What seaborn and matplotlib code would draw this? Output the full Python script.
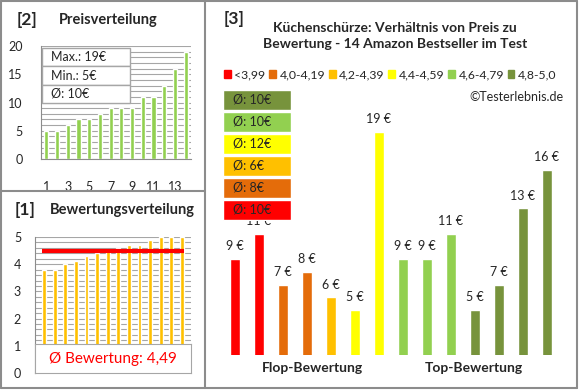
import matplotlib
matplotlib.use('Agg')
import matplotlib.pyplot as plt
from matplotlib.lines import Line2D
from matplotlib.patches import Patch
import seaborn as sns

# data
prices_sorted = [5, 5, 6, 7, 7, 8, 9, 9, 9, 11, 11, 13, 16, 19]
price_ticks = [1, 3, 5, 7, 9, 11, 13]
ratings_sorted = [3.8, 3.8, 4.0, 4.1, 4.3, 4.4, 4.5, 4.6, 4.7, 4.7, 4.9, 5.0, 5.0, 5.0]
avg_rating = 4.49
product_prices = [9, 11, 7, 8, 6, 5, 19, 9, 9, 11, 5, 7, 13, 16]
product_groups = [0, 0, 1, 1, 2, 3, 3, 4, 4, 4, 5, 5, 5, 5]
group_labels = ['<3,99', '4,0-4,19', '4,2-4,39', '4,4-4,59', '4,6-4,79', '4,8-5,0']
group_colors = ['#FF0000', '#E46C0A', '#FFC000', '#FFFF00', '#92D050', '#77933C']
group_avgs = [10, 8, 6, 12, 10, 10]

sns.set_style('white')
plt.rcParams['font.family'] = ['Lato', 'DejaVu Sans']

W, H = 580, 390
fig = plt.figure(figsize=(W / 100, H / 100), dpi=100)


def box(x0, y0, x1, y1):
    # pixel rectangle -> figure fraction
    return [x0 / W, 1 - y1 / H, (x1 - x0) / W, (y1 - y0) / H]


def ftext(x, y, s, **kw):
    fig.text(x / W, 1 - y / H, s, **kw)


grid_col = '#A6A6A6'
frame_col = '#8C8C8C'

# panel frames
for xs, ys in [((1, 577), (1, 1)), ((1, 577), (388, 388)), ((1, 1), (1, 388)),
               ((577, 577), (1, 388)), ((205, 205), (1, 388)), ((1, 205), (191, 191))]:
    fig.add_artist(Line2D([x / W for x in xs], [1 - y / H for y in ys], color=frame_col, lw=1.5))

# [2] Preisverteilung
ax2 = fig.add_axes(box(41, 46, 191, 159))
sns.barplot(x=list(range(len(prices_sorted))), y=prices_sorted, color='#92D050',
            saturation=1, width=0.38, ax=ax2)
ax2.set_axisbelow(True)
ax2.set_ylim(0, 20)
ax2.set_yticks(range(0, 21, 5))
ax2.set_yticks(range(0, 21), minor=True)
ax2.grid(axis='y', which='both', color=grid_col, lw=0.8)
ax2.set_xticks(range(0, 14, 2))
ax2.set_xticklabels(price_ticks)
ax2.tick_params(which='both', length=0, labelsize=9)
ax2.tick_params(axis='x', pad=16)
ax2.tick_params(axis='y', pad=13)
for s in ['top', 'right']:
    ax2.spines[s].set_visible(False)
for s in ['left', 'bottom']:
    ax2.spines[s].set_color(frame_col)
ax2.set_xlabel('')
ax2.set_ylabel('')

info = [f'Max.: {max(prices_sorted)}€', f'Min.: {min(prices_sorted)}€',
        f'Ø: {round(sum(prices_sorted) / len(prices_sorted))}€']
axi = fig.add_axes(box(42, 48, 130, 103))
axi.barh(range(3), [1] * 3, height=1, color='white', edgecolor=grid_col, lw=1, clip_on=False)
axi.set_xlim(0, 1)
axi.set_ylim(2.5, -0.5)
axi.axis('off')
for i, t in enumerate(info):
    axi.text(0.1, i, t, va='center', fontsize=9)

ftext(17, 20, '[2]', fontsize=12.5, fontweight='bold', va='center')
ftext(108, 20, 'Preisverteilung', fontsize=10.5, fontweight='bold', va='center', ha='center')

# [1] Bewertungsverteilung
ax1 = fig.add_axes(box(35, 237, 191, 373))
sns.barplot(x=list(range(len(ratings_sorted))), y=ratings_sorted, color='#FFC000',
            saturation=1, width=0.36, ax=ax1)
ax1.set_axisbelow(True)
ax1.hlines(avg_rating, -0.15, len(ratings_sorted) - 0.85, color='#FF0000', lw=3)
ax1.set_ylim(0, 5)
ax1.set_yticks(range(0, 6))
ax1.set_yticks([i * 0.2 for i in range(26)], minor=True)
ax1.grid(axis='y', which='both', color=grid_col, lw=0.8)
ax1.set_xticks([])
ax1.tick_params(axis='y', which='major', length=3, color=frame_col, labelsize=9, pad=7)
ax1.tick_params(axis='y', which='minor', length=0)
for s in ['top', 'right', 'bottom']:
    ax1.spines[s].set_visible(False)
ax1.spines['left'].set_color(frame_col)
ax1.set_xlabel('')
ax1.set_ylabel('')

axb = fig.add_axes(box(35, 344, 191, 373))
axb.set_xticks([])
axb.set_yticks([])
for s in axb.spines.values():
    s.set_color(grid_col)
axb.text(0.5, 0.5, f'Ø Bewertung: {avg_rating:.2f}'.replace('.', ','), color='#FF0000',
         ha='center', va='center', fontsize=11, transform=axb.transAxes)

ftext(15, 210, '[1]', fontsize=12.5, fontweight='bold', va='center')
ftext(122, 210, 'Bewertungsverteilung', fontsize=10.5, fontweight='bold', va='center', ha='center')

# [3] Preis zu Bewertung
ax3 = fig.add_axes(box(223, 100, 559, 355))
sns.barplot(x=list(range(len(product_prices))), y=product_prices, hue=product_groups,
            palette=group_colors, legend=False, dodge=False, width=0.42, saturation=1, ax=ax3)
ax3.set_ylim(1.46, 21.52)
ax3.set_xlim(-0.5, len(product_prices) - 0.5)
for i, v in enumerate(product_prices):
    ax3.text(i, v + 1.0, f'{v} €', ha='center', va='center', fontsize=9)
ax3.axis('off')

ftext(224, 19, '[3]', fontsize=12.5, fontweight='bold', va='center')
ftext(395, 36, 'Küchenschürze: Verhältnis von Preis zu\nBewertung - 14 Amazon Bestseller im Test',
      fontsize=10, fontweight='bold', va='center', ha='center', linespacing=1.5)
ftext(563, 97, '©Testerlebnis.de', fontsize=9, ha='right', va='center')
ftext(312, 368, 'Flop-Bewertung', fontsize=10, fontweight='bold', va='center', ha='center')
ftext(474, 368, 'Top-Bewertung', fontsize=10, fontweight='bold', va='center', ha='center')

handles = [Patch(color=c, label=l) for c, l in zip(group_colors, group_labels)]
fig.legend(handles=handles, ncol=6, loc='center left', bbox_to_anchor=(224 / W, 1 - 75 / H),
           frameon=False, fontsize=8.8, handlelength=0.55, handleheight=0.55, handletextpad=0.3,
           columnspacing=0.3, borderaxespad=0, borderpad=0)

# group average boxes, drawn on top of the bars
axg = fig.add_axes(box(223, 89, 291, 221))
order = list(range(len(group_avgs)))[::-1]
axg.barh(range(len(order)), [1] * len(order), height=0.9,
         color=[group_colors[g] for g in order])
for i, g in enumerate(order):
    axg.text(0.15, i, f'Ø: {group_avgs[g]}€', va='center', fontsize=9)
axg.set_xlim(0, 1)
axg.set_ylim(len(order) - 0.5, -0.5)
axg.axis('off')

fig.savefig('out.png', dpi=100)
